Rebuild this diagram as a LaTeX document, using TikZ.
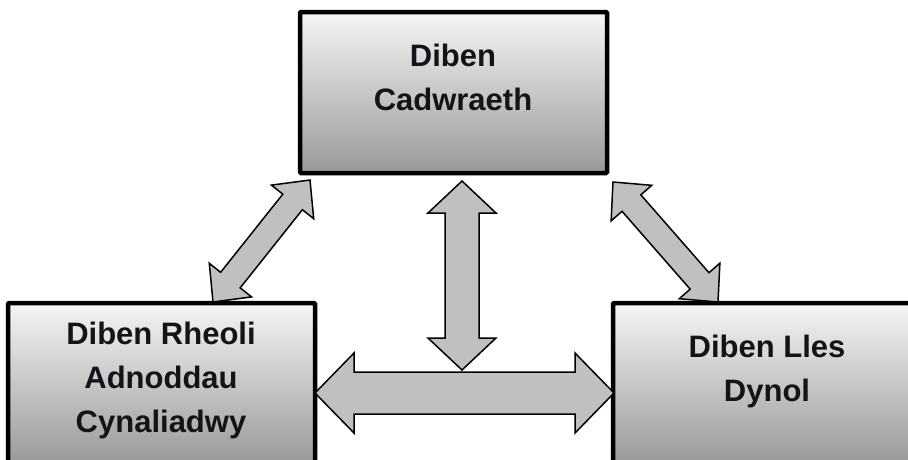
\documentclass[tikz,border=0pt]{standalone}
\usepackage{fontspec}
\setmainfont{Liberation Sans}
\usetikzlibrary{calc}
\definecolor{boxtext}{HTML}{141418}
\definecolor{arrowfill}{HTML}{C0C0C0}
\tikzset{
  boxnode/.style={draw=black, line width=4.5pt, rounded corners=1pt,
    top color=white!96!black, bottom color=black!40,
    minimum width=307pt, minimum height=161pt, inner sep=0pt},
  boxlabel/.style={font=\fontsize{31}{44}\selectfont\bfseries, text=boxtext,
    align=center, inner sep=0pt},
  blockarrow/.style={draw=black, line width=1.5pt, fill=arrowfill, line join=miter}
}
% #1 start, #2 end, #3 half shaft, #4 half head, #5 head length
\newcommand\dblblockarrow[5]{%
  \draw[blockarrow] (#1)
    -- ($(#1)!#5!(#2)!#4!90:(#2)$)
    -- ($(#1)!#5!(#2)!#3!90:(#2)$)
    -- ($(#2)!#5!(#1)!#3!-90:(#1)$)
    -- ($(#2)!#5!(#1)!#4!-90:(#1)$)
    -- (#2)
    -- ($(#2)!#5!(#1)!#4!90:(#1)$)
    -- ($(#2)!#5!(#1)!#3!90:(#1)$)
    -- ($(#1)!#5!(#2)!#3!-90:(#2)$)
    -- ($(#1)!#5!(#2)!#4!-90:(#2)$)
    -- cycle;}
\begin{document}
\begin{tikzpicture}[x=1pt,y=-1pt]
  \useasboundingbox (0,0) rectangle (908,459);
  \clip (0,0) rectangle (908,459);
  \fill[white] (0,0) rectangle (908,459);

  % boxes
  \node[boxnode] (top)   at (453.5,92.5)  {};
  \node[boxnode] (left)  at (161.5,383.5) {};
  \node[boxnode] (right) at (766.5,383.5) {};

  % labels
  \node[boxlabel] (toptext)   at (453,77)  {Diben\\Cadwraeth};
  \node[boxlabel] (lefttext)  at (161,380) {Diben Rheoli\\Adnoddau\\Cynaliadwy};
  \node[boxlabel] (righttext) at (767,371) {Diben Lles\\Dynol};

  % arrow end points
  \coordinate (vA) at (462,181);
  \coordinate (vB) at (462,370);
  \coordinate (hA) at (315,393);
  \coordinate (hB) at (614,393);
  \coordinate (lA) at (213,302);
  \coordinate (lB) at (310,180);
  \coordinate (rA) at (613,182);
  \coordinate (rB) at (718,302);

  \dblblockarrow{vA}{vB}{17pt}{34pt}{32pt}
  \dblblockarrow{hA}{hB}{21pt}{40pt}{39pt}
  \dblblockarrow{lA}{lB}{12.5pt}{27pt}{28pt}
  \dblblockarrow{rA}{rB}{12.5pt}{27pt}{28pt}
\end{tikzpicture}
\end{document}
